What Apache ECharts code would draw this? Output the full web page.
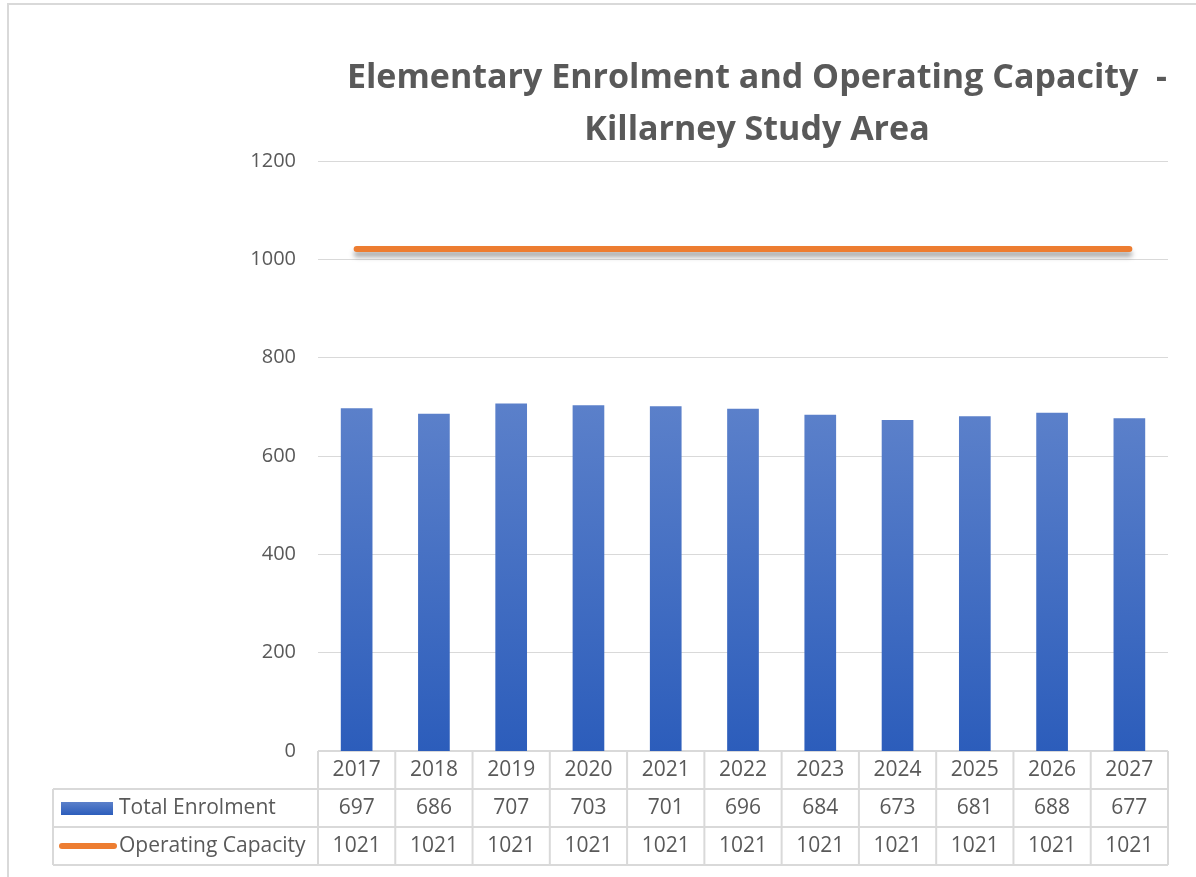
<!DOCTYPE html>
<html>
<head>
<meta charset="utf-8">
<script src="https://cdn.jsdelivr.net/npm/echarts@6/dist/echarts.min.js"></script>
<style>
  html, body { margin: 0; padding: 0; background: #fff; }
  #chart { width: 1196px; height: 877px; }
</style>
</head>
<body>
<div id="chart"></div>
<script>
var years = ['2017', '2018', '2019', '2020', '2021', '2022', '2023', '2024', '2025', '2026', '2027'];
var enrolment = [697, 686, 707, 703, 701, 696, 684, 673, 681, 688, 677];
var capacity = [1021, 1021, 1021, 1021, 1021, 1021, 1021, 1021, 1021, 1021, 1021];
var yTicks = [0, 200, 400, 600, 800, 1000, 1200];

var textColor = '#595959';
var gridColor = '#d9d9d9';
var fontFamily = '"Open Sans", "Noto Sans", sans-serif';

var myChart = echarts.init(document.getElementById('chart'));

var option = {
    backgroundColor: '#fff',
    animation: false,
    title: {
        text: 'Elementary Enrolment and Operating Capacity  -\nKillarney Study Area',
        left: 752,
        top: 47,
        textAlign: 'center',
        textStyle: {
            color: textColor,
            fontFamily: fontFamily,
            fontWeight: 'bold',
            fontSize: 34,
            lineHeight: 52
        }
    },
    grid: {
        left: 318,
        right: 28,
        top: 161,
        bottom: 126
    },
    xAxis: {
        type: 'category',
        data: years,
        axisLine: { show: false },
        axisTick: { show: false },
        axisLabel: { show: false }
    },
    yAxis: {
        type: 'value',
        min: yTicks[0],
        max: yTicks[yTicks.length - 1],
        interval: yTicks[1] - yTicks[0],
        axisLine: { show: false },
        axisTick: { show: false },
        axisLabel: {
            color: textColor,
            fontFamily: fontFamily,
            fontSize: 20,
            margin: 22,
            formatter: function (v) { return String(v); }
        },
        splitLine: { lineStyle: { color: gridColor, width: 1 } }
    },
    series: [
        {
            name: 'Total Enrolment',
            type: 'bar',
            data: enrolment,
            barWidth: '41%',
            itemStyle: {
                color: new echarts.graphic.LinearGradient(0, 0, 0, 1, [
                    { offset: 0, color: '#5b80ca' },
                    { offset: 1, color: '#2c5dbb' }
                ]),
                shadowColor: 'rgba(0,0,0,0.35)',
                shadowBlur: 8,
                shadowOffsetX: 2,
                shadowOffsetY: 1
            }
        },
        {
            name: 'Operating Capacity',
            type: 'line',
            data: capacity,
            symbol: 'none',
            z: 3,
            lineStyle: {
                color: '#ed7d31',
                width: 6,
                cap: 'round',
                shadowColor: 'rgba(0,0,0,0.35)',
                shadowBlur: 5,
                shadowOffsetY: 5
            }
        }
    ]
};
myChart.setOption(option);

// data table under the plot, placed from the axis positions
function buildTable() {
    var x0 = myChart.convertToPixel({ xAxisIndex: 0 }, 0);
    var x1 = myChart.convertToPixel({ xAxisIndex: 0 }, 1);
    var step = x1 - x0;
    var left = x0 - step / 2;
    var right = left + step * years.length;
    var top = myChart.convertToPixel({ yAxisIndex: 0 }, 0);
    var rowH = 38;
    var tableLeft = 53;
    var font = '21px ' + fontFamily;
    var g = [];
    var ls = { stroke: gridColor, lineWidth: 2 };
    var ts = { fill: textColor, font: font, textAlign: 'center', textVerticalAlign: 'middle' };

    // outer frame of the chart
    g.push({ type: 'rect', shape: { x: 8, y: 4, width: 1300, height: 1000 }, style: { fill: null, stroke: gridColor, lineWidth: 2 }, silent: true });

    // horizontal rules
    g.push({ type: 'line', shape: { x1: left, y1: top, x2: right, y2: top }, style: ls });
    for (var r = 1; r <= 3; r++) {
        g.push({ type: 'line', shape: { x1: tableLeft, y1: top + rowH * r, x2: right, y2: top + rowH * r }, style: ls });
    }
    // vertical rules
    g.push({ type: 'line', shape: { x1: tableLeft, y1: top + rowH, x2: tableLeft, y2: top + rowH * 3 }, style: ls });
    for (var i = 0; i <= years.length; i++) {
        var xv = left + step * i;
        g.push({ type: 'line', shape: { x1: xv, y1: top, x2: xv, y2: top + rowH * 3 }, style: ls });
    }
    // cells
    for (var j = 0; j < years.length; j++) {
        var cx = myChart.convertToPixel({ xAxisIndex: 0 }, j);
        g.push({ type: 'text', x: cx, y: top + rowH * 0.5, style: echarts.util.extend({ text: years[j] }, ts) });
        g.push({ type: 'text', x: cx, y: top + rowH * 1.5, style: echarts.util.extend({ text: String(enrolment[j]) }, ts) });
        g.push({ type: 'text', x: cx, y: top + rowH * 2.5, style: echarts.util.extend({ text: String(capacity[j]) }, ts) });
    }
    // row headers with legend keys
    g.push({
        type: 'rect',
        shape: { x: tableLeft + 8, y: top + rowH * 1.5 - 6, width: 52, height: 13 },
        style: {
            fill: new echarts.graphic.LinearGradient(0, 0, 0, 1, [
                { offset: 0, color: '#5b80ca' },
                { offset: 1, color: '#2c5dbb' }
            ])
        }
    });
    g.push({ type: 'text', x: tableLeft + 66, y: top + rowH * 1.5, style: { text: 'Total Enrolment', fill: textColor, font: font, textAlign: 'left', textVerticalAlign: 'middle' } });
    g.push({
        type: 'line',
        shape: { x1: tableLeft + 9, y1: top + rowH * 2.5, x2: tableLeft + 61, y2: top + rowH * 2.5 },
        style: { stroke: '#ed7d31', lineWidth: 6, lineCap: 'round' }
    });
    g.push({ type: 'text', x: tableLeft + 66, y: top + rowH * 2.5, style: { text: 'Operating Capacity', fill: textColor, font: font, textAlign: 'left', textVerticalAlign: 'middle' } });

    myChart.setOption({ graphic: g });
}
buildTable();
</script>
</body>
</html>
